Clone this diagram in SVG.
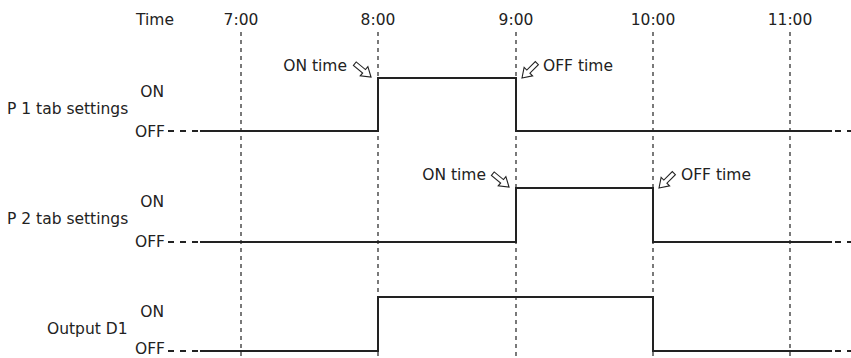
<svg xmlns="http://www.w3.org/2000/svg" width="851" height="358" viewBox="0 0 851 358">
<defs>
<style>
text{font-family:"DejaVu Sans","Liberation Sans",sans-serif;font-size:15.5px;fill:#222}
.e{text-anchor:end}.m{text-anchor:middle}
.grid{stroke:#222;stroke-width:1.2;stroke-dasharray:4 4;fill:none}
.sig{stroke:#222;stroke-width:2;fill:none}
.ext{stroke:#222;stroke-width:2;stroke-dasharray:6 6;fill:none}
.arr{fill:#fff;stroke:#222;stroke-width:1.1;stroke-linejoin:miter}
</style>
<polygon id="ar" points="0,0 -9,-6 -9,-2.2 -21,-2.2 -21,2.2 -9,2.2 -9,6"/>
</defs>
<rect width="851" height="358" fill="#fff"/>
<g id="timeaxis">
<text x="136" y="25">Time</text>
<text class="m" x="241" y="25">7:00</text>
<text class="m" x="378" y="25">8:00</text>
<text class="m" x="516" y="25">9:00</text>
<text class="m" x="653" y="25">10:00</text>
<text class="m" x="790" y="25">11:00</text>
</g>
<g id="gridlines">
<line class="grid" x1="241" y1="32" x2="241" y2="358"/>
<line class="grid" x1="378" y1="32" x2="378" y2="358"/>
<line class="grid" x1="516" y1="32" x2="516" y2="358"/>
<line class="grid" x1="653" y1="32" x2="653" y2="358"/>
<line class="grid" x1="790" y1="32" x2="790" y2="358"/>
</g>
<g id="p1">
<text class="e" x="164" y="97">ON</text>
<text x="7" y="114">P 1 tab settings</text>
<text class="e" x="165" y="137">OFF</text>
<line class="ext" x1="168" y1="131" x2="200" y2="131"/>
<path class="sig" d="M200,131 H378 V78 H516 V131 H832"/>
<line class="ext" x1="835" y1="131" x2="851" y2="131"/>
<text class="e" x="347" y="71">ON time</text>
<use href="#ar" class="arr" transform="translate(371,77) rotate(39.5)"/>
<text x="543" y="71">OFF time</text>
<use href="#ar" class="arr" transform="translate(522,78) rotate(135)"/>
</g>
<g id="p2">
<text class="e" x="164" y="207">ON</text>
<text x="7" y="224">P 2 tab settings</text>
<text class="e" x="165" y="247">OFF</text>
<line class="ext" x1="168" y1="242" x2="200" y2="242"/>
<path class="sig" d="M200,242 H516 V188 H653 V242 H832"/>
<line class="ext" x1="835" y1="242" x2="851" y2="242"/>
<text class="e" x="486" y="180">ON time</text>
<use href="#ar" class="arr" transform="translate(509,187) rotate(39.5)"/>
<text x="681" y="180">OFF time</text>
<use href="#ar" class="arr" transform="translate(659,188) rotate(135)"/>
</g>
<g id="out">
<text class="e" x="164" y="317">ON</text>
<text x="47" y="334">Output D1</text>
<text class="e" x="165" y="354">OFF</text>
<line class="ext" x1="168" y1="351" x2="200" y2="351"/>
<path class="sig" d="M200,351 H378 V297 H653 V351 H832"/>
<line class="ext" x1="835" y1="351" x2="851" y2="351"/>
</g>
</svg>
